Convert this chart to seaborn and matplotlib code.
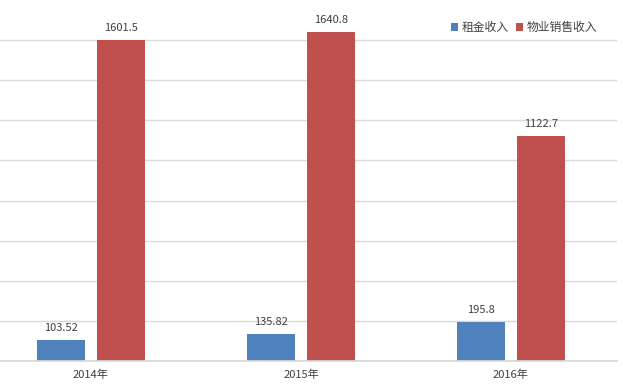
import pandas as pd
import matplotlib.pyplot as plt
import seaborn as sns

# Data
years = ['2014年', '2015年', '2016年']
rent_income = [103.52, 135.82, 195.8]
property_sales = [1601.5, 1640.8, 1122.7]
series_names = ['租金收入', '物业销售收入']
label_texts = [['103.52', '135.82', '195.8'], ['1601.5', '1640.8', '1122.7']]

data = pd.DataFrame({
    'year': years * 2,
    'value': rent_income + property_sales,
    'series': [series_names[0]] * 3 + [series_names[1]] * 3,
})

sns.set_theme(style='white')
plt.rcParams['font.family'] = ['Noto Sans CJK SC', 'DejaVu Sans']

fig = plt.figure(figsize=(6.23, 3.91), dpi=100)
ax = fig.add_axes([0, 30 / 391, 617 / 623, 361 / 391])

sns.barplot(data=data, x='year', y='value', hue='series', ax=ax,
            palette=['#4F81BD', '#C0504D'], width=0.57, gap=0.2,
            saturation=1, errorbar=None, linewidth=0)

# value labels
for container, texts in zip(ax.containers, label_texts):
    ax.bar_label(container, labels=texts, padding=5, fontsize=8, color='#404040')

ax.set_xlim(-0.433, 2.505)
ax.set_ylim(0, 1800)
ax.set_yticks(range(0, 1601, 200))
ax.set_yticklabels([])
ax.tick_params(axis='y', length=0)
ax.tick_params(axis='x', length=0, labelsize=8, labelcolor='#404040', pad=6)
ax.yaxis.grid(True, color='#D9D9D9', linewidth=1)
ax.set_axisbelow(True)
for side in ['top', 'right', 'left']:
    ax.spines[side].set_visible(False)
ax.spines['bottom'].set_color('#D9D9D9')
ax.set_xlabel('')
ax.set_ylabel('')

leg = ax.legend(loc='upper right', bbox_to_anchor=(0.975, 0.955), frameon=False,
                fontsize=8.5, ncol=2, handlelength=0.6, handleheight=0.6,
                handletextpad=0.3, columnspacing=0.6, borderaxespad=0)
for t in leg.get_texts():
    t.set_color('#404040')

plt.savefig('out.png', dpi=100)
